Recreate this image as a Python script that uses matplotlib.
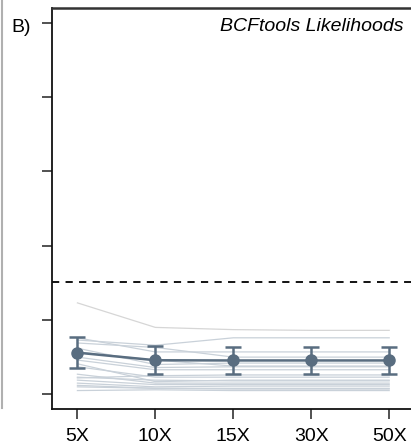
import numpy as np
import matplotlib.pyplot as plt
from matplotlib.lines import Line2D

plt.rcParams['font.family'] = ['Liberation Sans', 'DejaVu Sans']

coverage = ['5X', '10X', '15X', '30X', '50X']

# per-sample error rates across coverage levels
samples = [
    [0.123, 0.090, 0.087, 0.086, 0.086],
    [0.073, 0.066, 0.076, 0.076, 0.076],
    [0.076, 0.057, 0.057, 0.057, 0.057],
    [0.069, 0.063, 0.050, 0.050, 0.050],
    [0.062, 0.040, 0.042, 0.042, 0.042],
    [0.057, 0.046, 0.038, 0.038, 0.038],
    [0.050, 0.036, 0.037, 0.037, 0.037],
    [0.046, 0.033, 0.033, 0.033, 0.033],
    [0.041, 0.017, 0.019, 0.019, 0.019],
    [0.037, 0.023, 0.023, 0.023, 0.023],
    [0.027, 0.015, 0.015, 0.015, 0.015],
    [0.023, 0.019, 0.018, 0.018, 0.018],
    [0.019, 0.013, 0.013, 0.013, 0.013],
    [0.015, 0.010, 0.011, 0.011, 0.011],
    [0.010, 0.008, 0.008, 0.008, 0.008],
    [0.005, 0.006, 0.005, 0.005, 0.005],
    [0.012, 0.008, 0.007, 0.007, 0.007],
    [0.022, 0.025, 0.026, 0.026, 0.026],
]

mean_rate = [0.056, 0.0458, 0.0455, 0.0455, 0.0455]
sd_rate = [0.0205, 0.019, 0.0185, 0.0185, 0.0185]
threshold = 0.151

x = np.arange(len(coverage))

fig = plt.figure(figsize=(4.11, 4.48), dpi=100)
ax = fig.add_axes([0.1258, 0.0871, 0.8742, 0.8944])

for i, s in enumerate(samples):
    col = '#d6d6d6' if i == 0 else '#c9d1d9'
    ax.plot(x, s, color=col, lw=0.9, zorder=1)

ax.axhline(threshold, color='black', lw=1.3, ls=(0, (4, 3.5)), zorder=2)

ax.errorbar(x, mean_rate, yerr=sd_rate, color='#596d80', lw=1.8,
            marker='o', ms=8, capsize=6, capthick=1.8, elinewidth=1.8, zorder=3)

ax.set_xlim(-0.33, 4.28)
ax.set_ylim(-0.0198, 0.5195)
ax.set_xticks(x)
ax.set_xticklabels(coverage, fontsize=14)
ax.set_yticks(np.arange(0, 0.51, 0.1))
ax.set_yticklabels([])
ax.tick_params(axis='both', length=7, width=1.1, color='#222222')
ax.tick_params(axis='x', pad=7)

ax.spines['right'].set_visible(False)
for sp in ['left', 'bottom']:
    ax.spines[sp].set_linewidth(1.3)
    ax.spines[sp].set_color('#111111')
ax.spines['top'].set_linewidth(1.8)
ax.spines['top'].set_color('#333333')

ax.text(0.978, 0.976, 'BCFtools Likelihoods', transform=ax.transAxes,
        ha='right', va='top', fontsize=14, style='italic')
fig.text(0.027, 0.938, 'B)', fontsize=14, ha='left', va='center')

fig.add_artist(Line2D([0.005, 0.005], [0.09, 1.0], color='#b0b0b0', lw=1.5,
                      transform=fig.transFigure))

fig.savefig('out.png', dpi=100)
